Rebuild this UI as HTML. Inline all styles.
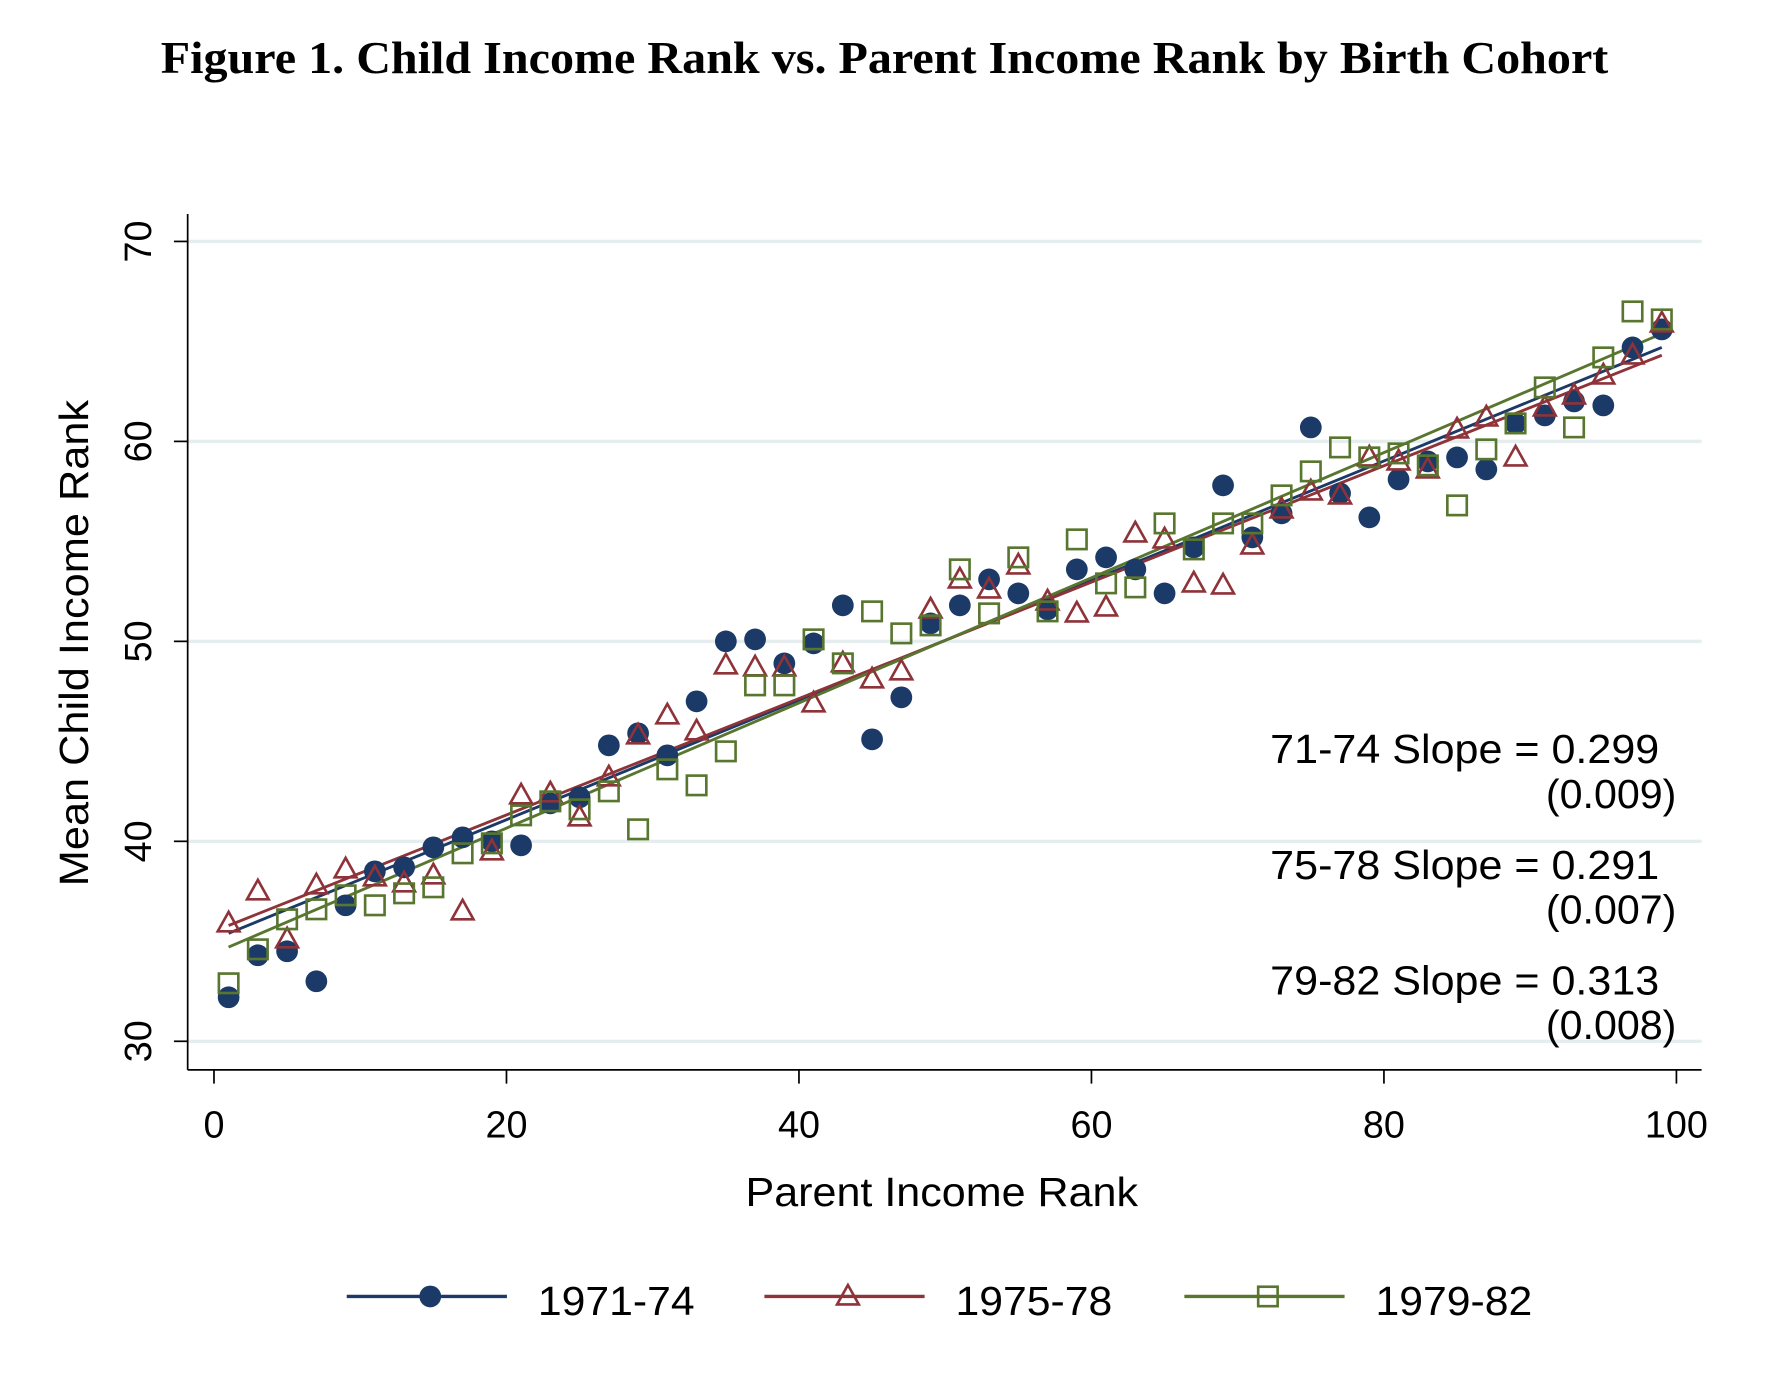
<!DOCTYPE html>
<html><head><meta charset="utf-8"><style>
html,body{margin:0;padding:0;background:#fff;}
svg{display:block;}
text{font-family:"Liberation Sans",sans-serif;fill:#000;}
</style></head><body>
<svg id="chart" width="1792" height="1388" viewBox="0 0 1566 1213" preserveAspectRatio="none" xmlns="http://www.w3.org/2000/svg">
<text x="773" y="64" text-anchor="middle" textLength="1265" lengthAdjust="spacingAndGlyphs" style="font-family:'Liberation Serif',serif;font-weight:bold;font-size:40px;">Figure 1. Child Income Rank vs. Parent Income Rank by Birth Cohort</text>
<g id="grid"></g>
<g id="axes"></g>
<g id="fits"></g>
<g id="marks"></g>
<g style="font-size:36px;">
<text x="1450" y="667" text-anchor="end" textLength="340" lengthAdjust="spacingAndGlyphs">71-74 Slope = 0.299</text>
<text x="1465" y="706" text-anchor="end">(0.009)</text>
<text x="1450" y="768" text-anchor="end" textLength="340" lengthAdjust="spacingAndGlyphs">75-78 Slope = 0.291</text>
<text x="1465" y="807" text-anchor="end">(0.007)</text>
<text x="1450" y="869" text-anchor="end" textLength="340" lengthAdjust="spacingAndGlyphs">79-82 Slope = 0.313</text>
<text x="1465" y="908" text-anchor="end">(0.008)</text>
</g>
<text x="823" y="1054" text-anchor="middle" textLength="343" lengthAdjust="spacingAndGlyphs" style="font-size:36px;">Parent Income Rank</text>
<text transform="translate(77,562) rotate(-90)" text-anchor="middle" textLength="425" lengthAdjust="spacingAndGlyphs" style="font-size:36px;">Mean Child Income Rank</text>
<g id="legend" style="font-size:36px;"></g>
</svg>
<script>
const xs = [1,3,5,7,9,11,13,15,17,19,21,23,25,27,29,31,33,35,37,39,41,43,45,47,49,51,53,55,57,59,61,63,65,67,69,71,73,75,77,79,81,83,85,87,89,91,93,95,97,99];
const s7174 = [32.2,34.3,34.5,33.0,36.8,38.5,38.7,39.7,40.2,40.0,39.8,41.9,42.2,44.8,45.4,44.3,47.0,50.0,50.1,48.9,49.9,51.8,45.1,47.2,50.9,51.8,53.1,52.4,51.6,53.6,54.2,53.6,52.4,54.7,57.8,55.2,56.4,60.7,57.4,56.2,58.1,59.0,59.2,58.6,60.9,61.3,62.0,61.8,64.7,65.6];
const s7578 = [35.9,37.5,35.1,37.8,38.6,38.2,37.9,38.3,36.5,39.5,42.3,42.4,41.2,43.2,45.3,46.3,45.5,48.8,48.7,48.7,46.9,48.9,48.1,48.5,51.6,53.1,52.6,53.8,52.0,51.4,51.7,55.4,55.1,52.9,52.8,54.8,56.6,57.5,57.3,59.2,59.0,58.6,60.6,61.2,59.2,61.7,62.3,63.3,64.3,65.9];
const s7982 = [32.9,34.6,36.1,36.6,37.3,36.8,37.4,37.7,39.4,39.9,41.3,42.0,41.6,42.5,40.6,43.6,42.8,44.5,47.8,47.8,50.1,48.9,51.5,50.4,50.8,53.6,51.4,54.2,51.5,55.1,52.9,52.7,55.9,54.6,55.9,55.9,57.3,58.5,59.7,59.2,59.4,58.8,56.8,59.6,60.9,62.7,60.7,64.2,66.5,66.1];
const fitIntercepts = [35.1, 35.5, 34.4];
const fitSlopes = [0.299, 0.291, 0.313];
const seriesNames = ["1971-74","1975-78","1979-82"];
const xTicks = [0,20,40,60,80,100];
const yTicks = [30,40,50,60,70];

const colors = ["#1b3a68","#8e3339","#58762f"];
const NS = "http://www.w3.org/2000/svg";
const X = v => 187 + v*12.78;
const Y = v => 910 - (v-30)*17.475;
function mk(tag, attrs, parent){const e=document.createElementNS(NS,tag);for(const k in attrs)e.setAttribute(k,attrs[k]);parent.appendChild(e);return e;}
const grid=document.getElementById('grid'), axes=document.getElementById('axes');
yTicks.forEach(t=>{
  const g=mk('line',{x1:164,x2:1487,y1:Y(t),y2:Y(t),stroke:'#e6edef','stroke-width':3},grid);
  
  
  const tk=mk('line',{x1:152,x2:164,y1:Y(t),y2:Y(t),stroke:'#000','stroke-width':1.5},axes);
  
  
  const tx=mk('text',{transform:`translate(132,${Y(t)}) rotate(-90)`,'text-anchor':'middle','font-size':'33'},axes);
  tx.textContent=t;
  
  
});
xTicks.forEach(t=>{
  const tk=mk('line',{x1:X(t),x2:X(t),y1:935,y2:947,stroke:'#000','stroke-width':1.5},axes);
  
  
  const tx=mk('text',{x:X(t),y:994,'text-anchor':'middle','font-size':'33'},axes);
  tx.textContent=t;
  
  
});
const ya=mk('line',{x1:164,x2:164,y1:187,y2:935,stroke:'#000','stroke-width':1.5},axes);


const xa=mk('line',{x1:164,x2:1487,y1:935,y2:935,stroke:'#000','stroke-width':1.5},axes);



const fits=document.getElementById('fits');
fitIntercepts.forEach((b,i)=>{
  const l=mk('line',{x1:X(1),y1:Y(b+fitSlopes[i]*1),x2:X(99),y2:Y(b+fitSlopes[i]*99),stroke:colors[i],'stroke-width':2.5},fits);
  
  
});
function marker(type,cx,cy,col,parent){
  let e;
  if(type===0) e=mk('circle',{cx:cx,cy:cy,r:9.5,fill:col},parent);
  else if(type===1) e=mk('polygon',{points:`${cx},${cy-10} ${cx-9.5},${cy+7} ${cx+9.5},${cy+7}`,fill:'none',stroke:col,'stroke-width':2.3},parent);
  else e=mk('rect',{x:cx-8.5,y:cy-8.5,width:17,height:17,fill:'none',stroke:col,'stroke-width':2.3},parent);
  return e;
}
const marks=document.getElementById('marks');
[s7174,s7578,s7982].forEach((arr,i)=>{
  arr.forEach((v,j)=>{
    const e=marker(i,X(xs[j]),Y(v),colors[i],marks);
    
    
  });
});
const legend=document.getElementById('legend');
const lx=[303,668,1035];
seriesNames.forEach((n,i)=>{
  const l=mk('line',{x1:lx[i],x2:lx[i]+140,y1:1133,y2:1133,stroke:colors[i],'stroke-width':3},legend);
  
  
  const m=marker(i,lx[i]+73,1133,colors[i],legend);
  
  
  const t=mk('text',{x:lx[i]+167,y:1149,textLength:137,lengthAdjust:'spacingAndGlyphs'},legend);
  t.textContent=n;
  
  
});
</script>
</body></html>
